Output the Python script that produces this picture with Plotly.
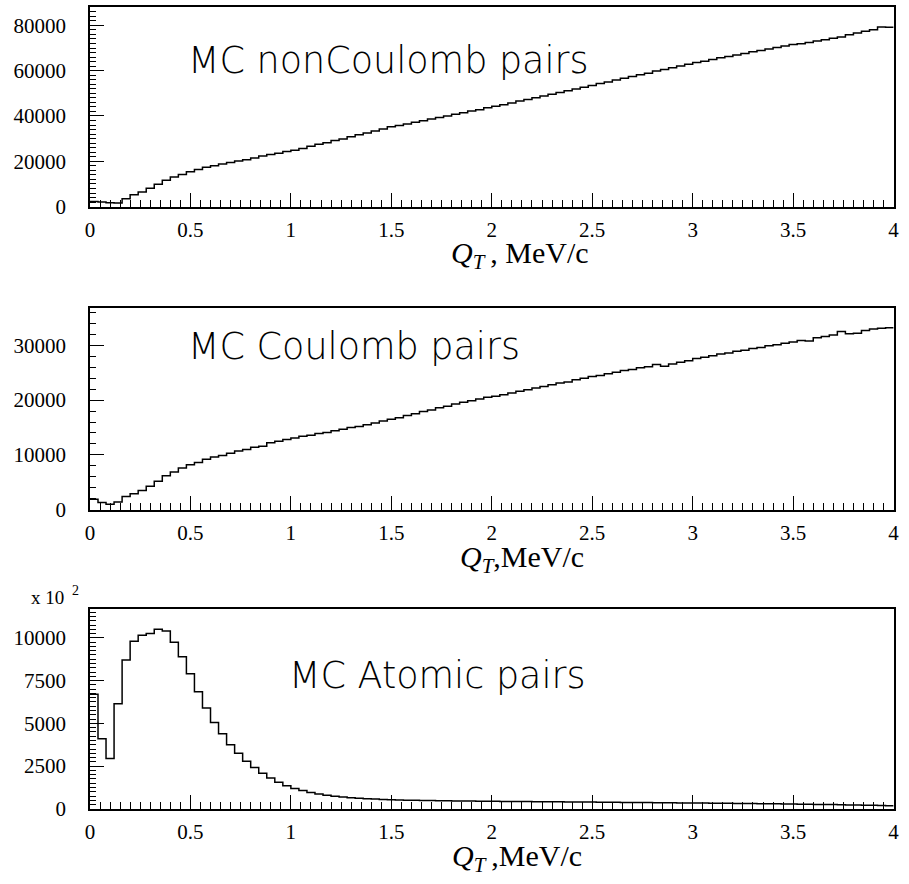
import numpy as np
import plotly.graph_objects as go

# ---------------- data (100 bins of 0.04 MeV/c from 0 to 4) ----------------
q_min, q_max, n_bins = 0.0, 4.0, 100

noncoulomb = [
    2300, 2100, 1700, 1600, 3500, 5200, 6500, 8100, 9900, 11600,
    13100, 14200, 15400, 16400, 17400, 18100, 18800, 19500, 20100, 20700,
    21500, 22300, 23000, 23600, 24300, 24900, 25700, 26600, 27500, 28200,
    29200, 29900, 30800, 31700, 32500, 33400, 34300, 35200, 35800, 36500,
    37200, 37900, 38700, 39300, 40000, 40800, 41400, 42200, 42700, 43600,
    44300, 45000, 45700, 46600, 47300, 48100, 48800, 49600, 50400, 51100,
    51900, 52700, 53500, 54300, 55000, 55900, 56600, 57400, 58200, 58900,
    59800, 60500, 61300, 62100, 62800, 63600, 64200, 64900, 65700, 66300,
    66900, 67600, 68300, 68900, 69600, 70200, 70900, 71500, 71900, 72400,
    73100, 73600, 74300, 74900, 75900, 76600, 77400, 78000, 79300, 79200,
]

coulomb = [
    1900, 1300, 1000, 1400, 2400, 2900, 3500, 4300, 5200, 6200,
    6900, 7600, 8200, 8600, 9200, 9600, 9900, 10300, 10700, 11000,
    11400, 11600, 12200, 12500, 12800, 13100, 13400, 13600, 13900, 14100,
    14400, 14700, 15000, 15200, 15500, 15800, 16200, 16500, 16800, 17200,
    17500, 17900, 18200, 18600, 18900, 19300, 19600, 19900, 20200, 20500,
    20700, 21000, 21300, 21600, 21900, 22200, 22500, 22800, 23100, 23300,
    23700, 24000, 24300, 24500, 24800, 25100, 25400, 25600, 25900, 26100,
    26500, 26200, 26600, 26900, 27200, 27600, 27800, 28100, 28400, 28600,
    28900, 29100, 29400, 29600, 29900, 30100, 30400, 30600, 30900, 30800,
    31400, 31600, 31900, 32500, 32100, 32200, 32700, 33000, 33100, 33200,
]

# atomic pairs, in units of 10^2
atomic = [
    6700, 4100, 2950, 6150, 8700, 9800, 10150, 10250, 10500, 10400,
    9750, 8900, 7900, 6850, 5900, 5050, 4400, 3750, 3250, 2780,
    2420, 2080, 1800, 1560, 1350, 1190, 1070, 960, 870, 800,
    740, 690, 650, 620, 590, 570, 550, 530, 520, 510,
    500, 490, 485, 478, 470, 465, 460, 455, 450, 445,
    440, 435, 432, 428, 425, 420, 416, 412, 410, 405,
    400, 398, 395, 390, 386, 382, 378, 375, 370, 366,
    362, 358, 354, 350, 346, 342, 338, 334, 330, 326,
    320, 316, 312, 306, 300, 294, 288, 282, 276, 270,
    262, 255, 248, 240, 232, 224, 215, 205, 195, 185,
]

panel_labels = ["MC nonCoulomb pairs", "MC Coulomb pairs", "MC Atomic pairs"]
x_titles = [
    "<i>Q</i><sub><i>T</i></sub>\u2009, MeV/c",
    "<i>Q</i><sub><i>T</i></sub>,MeV/c",
    "<i>Q</i><sub><i>T</i></sub>\u2009,MeV/c",
]
y_tops = [88000, 36800, 11670]
y_major = [20000, 10000, 2500]
y_minor = [2000, 2000, 250]

# ---------------- figure ----------------
W, H = 909, 884
def fx(px): return px / W
def fy(py): return 1 - py / H

x_dom = [fx(86), fx(899.5)]
y_doms = [[fy(209.5), fy(7.3)], [fy(516.7), fy(312.3)], [fy(820), fy(617.7)]]

edges = np.round(np.linspace(q_min, q_max, n_bins + 1), 4)
series = [noncoulomb, coulomb, atomic]

fig = go.Figure()
tick_font = dict(family="Liberation Serif, Times New Roman, serif", size=21, color="black")

for i, vals in enumerate(series):
    sfx = "" if i == 0 else str(i + 1)
    fig.add_trace(go.Scatter(
        x=edges, y=list(vals) + [vals[-1]],
        mode="lines", line=dict(shape="hv", color="black", width=1.5),
        xaxis="x" + sfx, yaxis="y" + sfx, showlegend=False, hoverinfo="skip",
    ))
    fig.layout["xaxis" + sfx] = dict(
        domain=x_dom, anchor="y" + sfx, range=[q_min, q_max],
        showgrid=False, zeroline=False,
        showline=True, linecolor="black", linewidth=1.6, mirror=True,
        ticks="inside", ticklen=14, tickwidth=1.3, tickcolor="black",
        tick0=0, dtick=0.5, tickfont=tick_font, ticklabelstandoff=3,
        minor=dict(ticks="inside", ticklen=7, tickwidth=1.2, tickcolor="black",
                   dtick=0.05, showgrid=False),
    )
    fig.layout["yaxis" + sfx] = dict(
        domain=y_doms[i], anchor="x" + sfx, range=[0, y_tops[i]],
        showgrid=False, zeroline=False,
        showline=True, linecolor="black", linewidth=1.6, mirror=True,
        ticks="inside", ticklen=14, tickwidth=1.3, tickcolor="black",
        tick0=0, dtick=y_major[i], tickformat="d", tickfont=tick_font,
        ticklabelstandoff=18,
        minor=dict(ticks="inside", ticklen=6, tickwidth=1.2, tickcolor="black",
                   dtick=y_minor[i], showgrid=False),
    )

label_font = dict(family="DejaVu Sans", size=36.5, color="black", weight=200)
label_pos = [(183, 61), (183, 351), (285, 685)]
for (px, py), txt in zip(label_pos, panel_labels):
    fig.add_annotation(x=fx(px), y=fy(py), xref="paper", yref="paper",
                       text=txt, showarrow=False, xanchor="left", yanchor="middle",
                       font=label_font)

title_font = dict(family="Liberation Serif, Times New Roman, serif", size=30, color="black")
title_pos = [(593, 259), (588, 567), (586, 870)]
for (px, py), txt in zip(title_pos, x_titles):
    fig.add_annotation(x=fx(px), y=fy(py), xref="paper", yref="paper",
                       text=txt, showarrow=False, xanchor="right", yanchor="middle",
                       font=title_font)

fig.add_annotation(x=fx(24), y=fy(606), xref="paper", yref="paper", text="x 10",
                   showarrow=False, xanchor="left", yanchor="middle",
                   font=dict(family="Liberation Serif, serif", size=19, color="black"))
fig.add_annotation(x=fx(66), y=fy(599), xref="paper", yref="paper", text="2",
                   showarrow=False, xanchor="left", yanchor="middle",
                   font=dict(family="Liberation Serif, serif", size=14, color="black"))

fig.update_layout(
    width=W, height=H, margin=dict(l=0, r=0, t=0, b=0),
    paper_bgcolor="white", plot_bgcolor="white", showlegend=False,
)

fig.write_html("out.html", config={"displayModeBar": False})

# remove the browser's default page margin so the figure sits at (0, 0)
with open("out.html", "r", encoding="utf-8") as f:
    html = f.read()
html = html.replace("<head>", "<head><style>html,body{margin:0;padding:0;overflow:hidden;}</style>", 1)
with open("out.html", "w", encoding="utf-8") as f:
    f.write(html)
